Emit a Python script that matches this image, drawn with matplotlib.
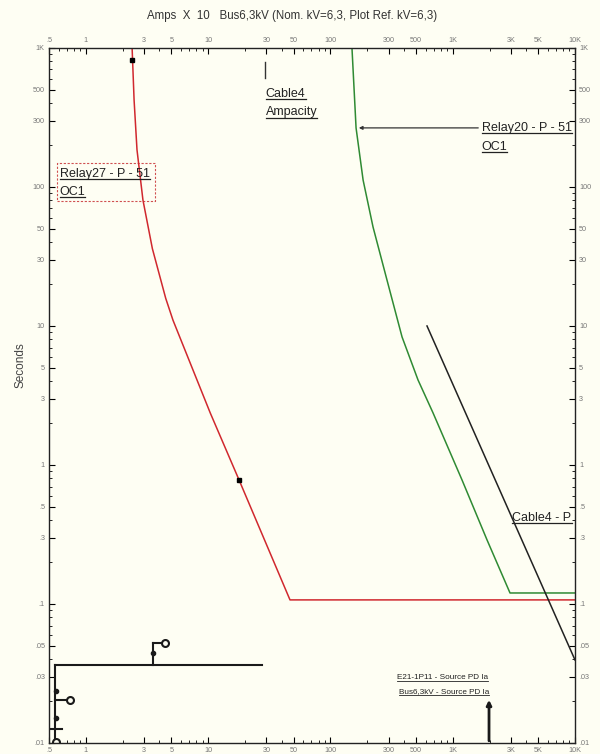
import numpy as np
import matplotlib.pyplot as plt
from matplotlib.patches import Rectangle
from matplotlib.lines import Line2D

plt.rcParams['font.family'] = ['Liberation Sans', 'DejaVu Sans']

# Relay27 - P - 51 OC1 curve (amps x 10, seconds)
relay27_amps = [2.39, 2.48, 2.62, 2.93, 3.50, 4.50, 5.16, 10.4, 17.9, 46.7, 10000]
relay27_sec = [1000, 423, 185, 80.6, 36.0, 15.8, 11.0, 2.37, 0.78, 0.107, 0.107]

# Relay20 - P - 51 OC1 curve
relay20_amps = [150, 162, 185, 223, 290, 385, 520, 690, 1191, 1907, 2940, 10000]
relay20_sec = [1000, 266, 112, 51.5, 21.4, 8.34, 4.09, 2.37, 0.78, 0.289, 0.12, 0.12]

# Cable4 damage line
cable_amps = [616, 10000]
cable_sec = [10.0, 0.0395]

x_ticks = [0.5, 1, 3, 5, 10, 30, 50, 100, 300, 500, 1000, 3000, 5000, 10000]
x_labels = ['.5', '1', '3', '5', '10', '30', '50', '100', '300', '500', '1K', '3K', '5K', '10K']
y_ticks = [0.01, 0.03, 0.05, 0.1, 0.3, 0.5, 1, 3, 5, 10, 30, 50, 100, 300, 500, 1000]
y_labels = ['.01', '.03', '.05', '.1', '.3', '.5', '1', '3', '5', '10', '30', '50', '100', '300', '500', '1K']

bg = '#fefef3'
fig = plt.figure(figsize=(6, 7.54), dpi=100, facecolor=bg)
ax = fig.add_axes([0.0817, 0.0146, 0.8767, 0.9218], facecolor=bg)
ax.set_xscale('log')
ax.set_yscale('log')
ax.set_xlim(0.5, 10000)
ax.set_ylim(0.01, 1000)

ax.plot(relay27_amps, relay27_sec, color='#d0282e', lw=1.1)
ax.plot(relay20_amps, relay20_sec, color='#2f8a33', lw=1.1)
ax.plot(cable_amps, cable_sec, color='#222222', lw=1.1)
ax.plot([2.39, 17.9], [820, 0.78], 's', color='black', ms=2.5)

# Cable4 ampacity marker
ax.plot([29.2, 29.2], [794, 608], color='#333333', lw=1)

# bottom-left device curves
k = '#1a1a1a'
ax.plot([0.56, 27.6], [0.0364, 0.0364], color=k, lw=1.5)
ax.plot([0.56, 0.56], [0.0364, 0.0101], color=k, lw=1.5)
ax.plot([0.5, 0.64], [0.0126, 0.0126], color=k, lw=1.5)
ax.plot([0.56, 0.74], [0.0204, 0.0204], color=k, lw=1.5)
ax.plot([0.74], [0.0204], 'o', mfc=bg, mec=k, mew=1.5, ms=5)
ax.plot([0.565, 0.565], [0.0237, 0.0151], 'o', color=k, ms=3)
ax.plot([0.565], [0.0102], 'o', mfc=bg, mec=k, mew=1.5, ms=5)
ax.plot([3.54, 3.54], [0.0364, 0.0524], color=k, lw=1.5)
ax.plot([3.54, 4.44], [0.0524, 0.0524], color=k, lw=1.5)
ax.plot([3.54], [0.0443], 'o', color=k, ms=3)
ax.plot([4.44], [0.0524], 'o', mfc=bg, mec=k, mew=1.5, ms=5)

# source short-circuit arrow
ax.annotate('', xy=(1980, 0.0214), xytext=(1980, 0.0099),
            arrowprops=dict(arrowstyle='-|>', color=k, lw=2, mutation_scale=7))

# Relay20 leader line
ax.annotate('', xy=(162, 266), xytext=(1703, 266),
            arrowprops=dict(arrowstyle='-|>', color='#333333', lw=0.9, mutation_scale=5))

# Relay27 label box
ax.add_patch(Rectangle((0.58, 79), 3.68 - 0.58, 149 - 79, fill=False,
                       ec='#d05050', lw=0.8, ls=(0, (2, 1.5))))

labels = []
def label(x, y, s, size=9, ha='left', color='#222222'):
    t = ax.text(x, y, s, fontsize=size, ha=ha, va='center', color=color)
    labels.append(t)
    return t

label(29.6, 470, 'Cable4')
label(29.6, 345, 'Ampacity')
label(1720, 266, 'Relay20 - P - 51')
label(1720, 195, 'OC1')
label(0.61, 124, 'Relay27 - P - 51')
label(0.61, 92, 'OC1')
label(3080, 0.416, 'Cable4 - P')
label(1960, 0.0294, 'E21-1P11 - Source PD Ia', size=5.9, ha='right')
label(1990, 0.0233, 'Bus6,3kV - Source PD Ia', size=5.9, ha='right')

ax.set_xticks(x_ticks)
ax.set_xticklabels(x_labels)
ax.set_yticks(y_ticks)
ax.set_yticklabels(y_labels)
ax.tick_params(which='both', direction='in', top=True, right=True,
               labeltop=True, labelright=True, labelsize=5.2, labelcolor='#777777')
ax.tick_params(which='major', length=4, width=0.8, pad=3)
ax.tick_params(which='minor', length=2.5, width=0.6)
ax.xaxis.set_minor_formatter(plt.NullFormatter())
ax.yaxis.set_minor_formatter(plt.NullFormatter())
for sp in ax.spines.values():
    sp.set_color('#222222')
    sp.set_linewidth(1)

ax.set_ylabel('Seconds', fontsize=8.5, color='#444444')
ax.yaxis.set_label_coords(-0.043, 0.544)
fig.text(0.487, 0.979, 'Amps  X  10   Bus6,3kV (Nom. kV=6,3, Plot Ref. kV=6,3)',
         ha='center', va='center', fontsize=8.3, color='#333333')

# underline annotation texts
fig.canvas.draw()
r = fig.canvas.get_renderer()
inv = fig.transFigure.inverted()
for t in labels:
    bb = t.get_window_extent(r)
    (x0, y0), (x1, _) = inv.transform([(bb.x0, bb.y0 + 0.5), (bb.x1, bb.y0)])
    fig.add_artist(Line2D([x0, x1], [y0, y0], color=t.get_color(),
                          lw=0.6 if t.get_fontsize() < 7 else 0.9))

fig.savefig('out.png', dpi=100, facecolor=bg)
